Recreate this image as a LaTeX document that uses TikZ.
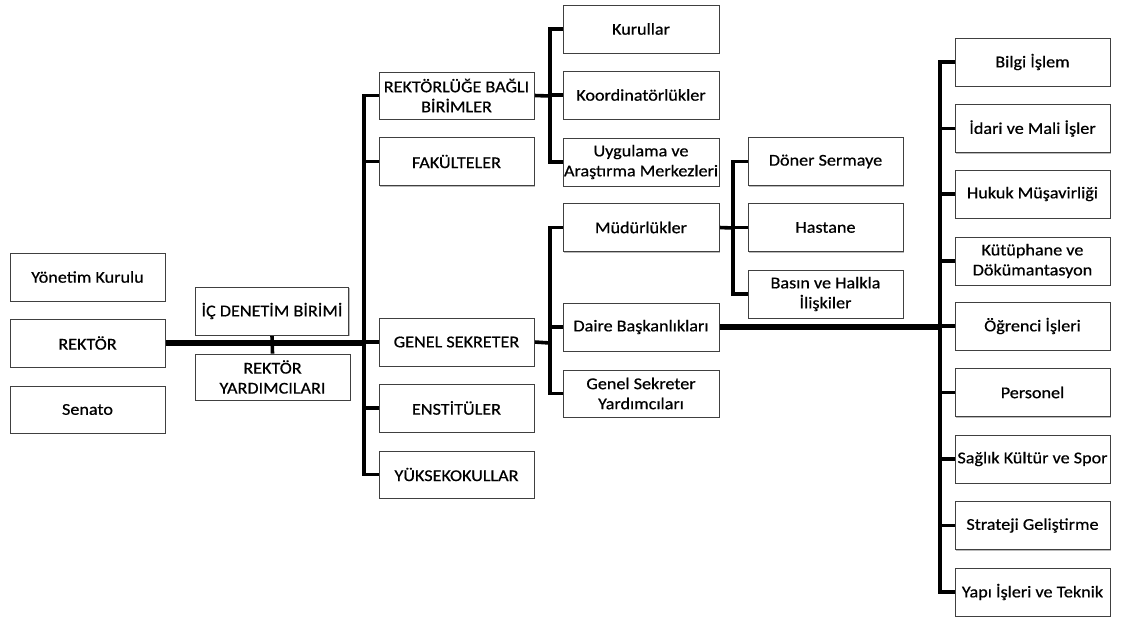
\documentclass[tikz,border=0pt]{standalone}
\usepackage{fontspec}
\setmainfont{Carlito}[FakeStretch=1.1, FakeBold=0.6]
\usetikzlibrary{shadows,backgrounds}
\tikzset{
  unit/.style={draw=black!75, line width=0.8pt, fill=white,
    minimum width=155pt, minimum height=48pt, inner sep=1pt,
    align=center, font=\fontsize{16.5}{20}\selectfont,
    drop shadow={shadow xshift=1.3pt, shadow yshift=-1.3pt, fill=black!45, opacity=0.6}},
  link/.style={line width=3.6pt, line cap=rect},
  trunk/.style={line width=6.5pt},
}
\begin{document}
\begin{tikzpicture}[x=1pt, y=-1pt]
\useasboundingbox (0,0) rectangle (1122,616);

% rector level
\node[unit] (yk)     at (87.5,277)  {Yönetim Kurulu};
\node[unit] (rektor) at (87.5,343)  {REKTÖR};
\node[unit, minimum height=47pt] (senato) at (87.5,409.5) {Senato};
\node[unit, minimum width=153pt] (icd) at (272,311) {İÇ DENETİM BİRİMİ};
\node[unit, minimum height=46pt] (ry) at (272.5,377) {REKTÖR\\YARDIMCILARI};

% first level units
\node[unit, minimum height=47pt] (rbb) at (456.5,95.5) {REKTÖRLÜĞE BAĞLI\\BİRİMLER};
\node[unit] (fak) at (456.5,161.5) {FAKÜLTELER};
\node[unit] (gs)  at (456.5,342)   {GENEL SEKRETER};
\node[unit] (ens) at (456.5,408)   {ENSTİTÜLER};
\node[unit, minimum height=47pt] (yuk) at (456.5,474.5) {YÜKSEKOKULLAR};

% second level units
\node[unit, minimum width=156pt] (kur)   at (641,29)    {Kurullar};
\node[unit, minimum width=156pt] (koord) at (641,95)    {Koordinatörlükler};
\node[unit, minimum width=156pt] (uyg)   at (641,162)   {Uygulama ve\\Araştırma Merkezleri};
\node[unit, minimum width=156pt] (mud)   at (641,227.5) {Müdürlükler};
\node[unit, minimum width=156pt] (daire) at (641,327)   {Daire Başkanlıkları};
\node[unit, minimum width=156pt, minimum height=47pt] (gsy) at (641,393.5) {Genel Sekreter\\Yardımcıları};

% directorates
\node[unit] (doner)   at (825.5,161.5) {Döner Sermaye};
\node[unit] (hastane) at (825.5,227.5) {Hastane};
\node[unit] (basin)   at (825.5,294)   {Basın ve Halkla\\İlişkiler};

% departments
\node[unit] (bilgi)  at (1032.5,62)    {Bilgi İşlem};
\node[unit] (idari)  at (1032.5,128.5) {İdari ve Mali İşler};
\node[unit] (hukuk)  at (1032.5,194)   {Hukuk Müşavirliği};
\node[unit] (kut)    at (1032.5,261)   {Kütüphane ve\\Dökümantasyon};
\node[unit] (ogr)    at (1032.5,326)   {Öğrenci İşleri};
\node[unit] (pers)   at (1032.5,392.5) {Personel};
\node[unit] (saglik) at (1032.5,459)   {Sağlık Kültür ve Spor};
\node[unit] (strat)  at (1032.5,525.5) {Strateji Geliştirme};
\node[unit] (yapi)   at (1032.5,592)   {Yapı İşleri ve Teknik};

% bus positions
\coordinate (busA) at (364,343);
\coordinate (busB) at (550,96);
\coordinate (busC) at (550,343);
\coordinate (busD) at (733,228);
\coordinate (busE) at (940,327);

\begin{pgfonlayer}{background}
  % rector to first level
  \draw[trunk] (rektor.east) -- (busA);
  \draw[line width=3.6pt] (icd.south) -- (ry.north);
  \draw[link] (busA |- rbb.west) -- (busA |- yuk.west);
  \foreach \n in {rbb,fak,gs,ens,yuk} \draw[link] (busA |- \n.west) -- (\n.west);
  % units attached to the rectorate
  \draw[link] (rbb.east) -- (busB);
  \draw[link] (busB |- kur.west) -- (busB |- uyg.west);
  \foreach \n in {kur,koord,uyg} \draw[link] (busB |- \n.west) -- (\n.west);
  % general secretary
  \draw[link] (gs.east) -- (busC);
  \draw[link] (busC |- mud.west) -- (busC |- gsy.west);
  \foreach \n in {mud,daire,gsy} \draw[link] (busC |- \n.west) -- (\n.west);
  % directorates
  \draw[link] (mud.east) -- (busD);
  \draw[link] (busD |- doner.west) -- (busD |- basin.west);
  \foreach \n in {doner,hastane,basin} \draw[link] (busD |- \n.west) -- (\n.west);
  % departments
  \draw[trunk] (daire.east) -- (busE);
  \draw[link] (busE |- bilgi.west) -- (busE |- yapi.west);
  \foreach \n in {bilgi,idari,hukuk,kut,ogr,pers,saglik,strat,yapi} \draw[link] (busE |- \n.west) -- (\n.west);
\end{pgfonlayer}
\end{tikzpicture}
\end{document}
